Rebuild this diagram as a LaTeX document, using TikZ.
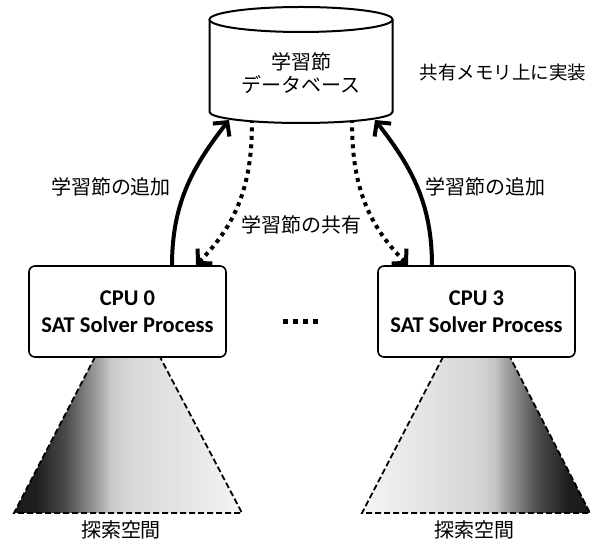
\documentclass[tikz,border=0pt]{standalone}
\usepackage{fontspec}
\setmainfont{Carlito}
\newfontfamily\jp{Noto Sans CJK JP}
\usetikzlibrary{arrows.meta}
\pgfdeclarehorizontalshading{coneL}{100bp}{color(0bp)=(black!90); color(25bp)=(black!90); color(30bp)=(black!88); color(36.5bp)=(black!70); color(40bp)=(black!53); color(44bp)=(black!34); color(46bp)=(black!22); color(50bp)=(black!16); color(58.5bp)=(black!12); color(75bp)=(black!4); color(100bp)=(black!4)}
\pgfdeclarehorizontalshading{coneR}{100bp}{color(0bp)=(black!4); color(25bp)=(black!4); color(41.5bp)=(black!12); color(50bp)=(black!16); color(54bp)=(black!22); color(56bp)=(black!34); color(60bp)=(black!53); color(63.5bp)=(black!70); color(70bp)=(black!88); color(75bp)=(black!90); color(100bp)=(black!90)}
\tikzset{
  jptext/.style={font=\jp\fontsize{20}{23}\selectfont, inner sep=0pt, align=center},
  cpubox/.style={draw, fill=white, rounded corners=6pt, line width=1.6pt, minimum width=197pt, minimum height=91pt, inner sep=0pt, align=center, font=\bfseries\fontsize{22.5}{27}\selectfont},
  cyl/.style={line width=2pt},
  addarrow/.style={line width=4pt, -{Straight Barb[length=10pt,width=21pt]}},
  sharearrow/.style={line width=4pt, dash pattern=on 4pt off 4.5pt, {Straight Barb[length=10pt,width=21pt]}-},
  conedash/.style={line width=1.8pt, dash pattern=on 6pt off 3pt}
}
\begin{document}
\begin{tikzpicture}[x=1pt,y=1pt]
\useasboundingbox (0,0) rectangle (595,543);
% search cones
\shade[shading=coneL] (95,186) -- (14,30) -- (242,30) -- (160,186) -- cycle;
\draw[conedash] (95,186) -- (14,30) -- (242,30) -- (160,186);
\shade[shading=coneR] (443,186) -- (362,30) -- (590,30) -- (510,186) -- cycle;
\draw[conedash] (443,186) -- (362,30) -- (590,30) -- (510,186);
\node[jptext] (sp0) at (121,13) {探索空間};
\node[jptext] (sp3) at (474,13) {探索空間};
% database cylinder
\fill[white] (209.5,523.5) -- (209.5,431) arc[start angle=180,end angle=360,x radius=91.5,y radius=11] -- (392.5,523.5) -- cycle;
\draw[cyl] (209.5,523.5) -- (209.5,431) arc[start angle=180,end angle=360,x radius=91.5,y radius=11] -- (392.5,523.5);
\draw[cyl, fill=white] (301,523.5) ellipse[x radius=91.5,y radius=12.5];
\node[jptext] (db) at (301,469.5) {学習節\\データベース};
\node[jptext, font=\jp\fontsize{18.5}{22}\selectfont] (shm) at (503,470) {共有メモリ上に実装};
% CPU boxes
\node[cpubox] (cpu0) at (127.5,231.5) {CPU 0\\SAT Solver Process};
\node[cpubox] (cpu3) at (476.5,231.5) {CPU 3\\SAT Solver Process};
\foreach \x in {283,293,303,313} \fill (\x,219) rectangle +(4.5,4.5);
% connector end points
\coordinate (a0s) at (172,277);
\coordinate (a0e) at (229,423);
\coordinate (s0s) at (252,421);
\coordinate (s0e) at (196,278);
\coordinate (a3s) at (432,277);
\coordinate (a3e) at (375,423);
\coordinate (s3s) at (352,421);
\coordinate (s3e) at (408,278);
\draw[addarrow] (a0s) to[out=90,in=232] (a0e);
\draw[addarrow] (a3s) to[out=90,in=-52] (a3e);
\draw[sharearrow] (s0e) to[out=45,in=-90] (s0s);
\draw[sharearrow] (s3e) to[out=135,in=-90] (s3s);
\node[jptext] (add0) at (111,356) {学習節の追加};
\node[jptext] (add3) at (485,356) {学習節の追加};
\node[jptext] (share) at (301,318) {学習節の共有};
\end{tikzpicture}
\end{document}
